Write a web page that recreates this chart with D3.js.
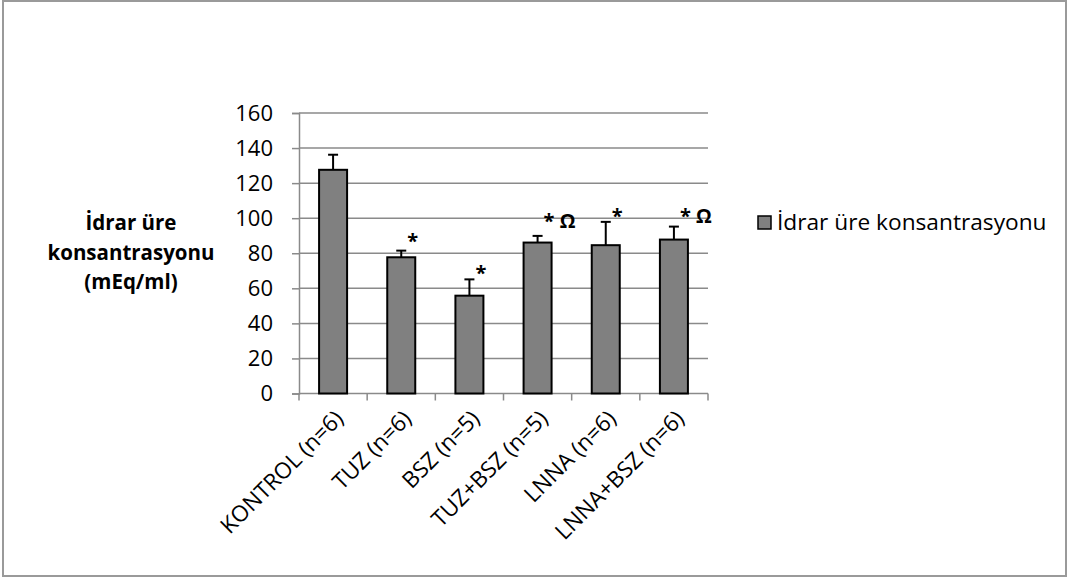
<!DOCTYPE html>
<html>
<head>
<meta charset="utf-8">
<script src="https://cdn.jsdelivr.net/npm/d3@7"></script>
<style>
  html, body { margin: 0; padding: 0; background: #fff; }
  svg { display: block; }
  text { font-family: "Open Sans", "Noto Sans", sans-serif; fill: #000; }
</style>
</head>
<body>
<svg id="chart" width="1068" height="578"></svg>
<script>
// Groups, mean urine urea concentration and upper error (SEM)
const groups = ["KONTROL (n=6)", "TUZ (n=6)", "BSZ (n=5)", "TUZ+BSZ (n=5)", "LNNA (n=6)", "LNNA+BSZ (n=6)"];
const means = [127.6, 77.7, 55.8, 86.1, 84.6, 87.8];
const errors = [8.6, 3.8, 9.3, 3.8, 13.3, 7.4];
// Significance marks and the level they sit at
const marks = ["", "*", "*", "* Ω", "*", "* Ω"];
const markLevel = [0, 89, 71, 100.5, 103.5, 103.5];
const yTicks = [0, 20, 40, 60, 80, 100, 120, 140, 160];
const seriesName = "İdrar üre konsantrasyonu";
const yTitle = ["İdrar üre", "konsantrasyonu", "(mEq/ml)"];

const svg = d3.select("#chart");
const W = 1068, H = 578;
const FS = "22px";

// outer frame
svg.append("rect")
  .attr("x", 3).attr("y", 1).attr("width", W - 5).attr("height", H - 3)
  .attr("fill", "#fff").attr("stroke", "#9a9a9a").attr("stroke-width", 2);

const plot = { left: 299, right: 708, top: 113, bottom: 393.5 };

const x = d3.scaleBand().domain(groups).range([plot.left, plot.right]).paddingInner(0).paddingOuter(0);
const y = d3.scaleLinear().domain([0, 160]).range([plot.bottom, plot.top]);

// gridlines
svg.append("g").selectAll("line").data(yTicks.filter(d => d > 0)).join("line")
  .attr("x1", plot.left).attr("x2", plot.right)
  .attr("y1", d => y(d)).attr("y2", d => y(d))
  .attr("stroke", "#8a8a8a").attr("stroke-width", 1.5);

// y axis
const yAxis = svg.append("g").attr("transform", `translate(${plot.left},0)`)
  .call(d3.axisLeft(y).tickValues(yTicks).tickSize(7).tickPadding(19).tickFormat(d3.format("d")));
yAxis.attr("font-size", null).attr("font-family", null);
yAxis.select(".domain").attr("stroke", "#8a8a8a").attr("stroke-width", 1.5);
yAxis.selectAll(".tick line").attr("stroke", "#8a8a8a").attr("stroke-width", 1.5);
yAxis.selectAll(".tick text").style("font-size", FS).attr("fill", "#000");

// x axis with ticks on category boundaries
const xAxisG = svg.append("g").attr("transform", `translate(0,${plot.bottom})`);
xAxisG.append("line").attr("x1", plot.left).attr("x2", plot.right)
  .attr("stroke", "#8a8a8a").attr("stroke-width", 1.5);
const bounds = groups.map(g => x(g)).concat([plot.right]);
xAxisG.selectAll("line.tk").data(bounds).join("line").attr("class", "tk")
  .attr("x1", d => d).attr("x2", d => d).attr("y1", 0).attr("y2", 7)
  .attr("stroke", "#8a8a8a").attr("stroke-width", 1.5);
xAxisG.selectAll("text").data(groups).join("text")
  .attr("transform", d => `translate(${x(d) + x.bandwidth() / 2 + 6},${21}) rotate(-45)`)
  .attr("text-anchor", "end")
  .attr("dy", "0.35em")
  .style("font-size", "22.5px")
  .text(d => d);

// bars
const barW = 28;
const cx = g => x(g) + x.bandwidth() / 2;
svg.append("g").selectAll("rect").data(groups).join("rect")
  .attr("x", g => cx(g) - barW / 2)
  .attr("y", (g, i) => y(means[i]))
  .attr("width", barW)
  .attr("height", (g, i) => y(0) - y(means[i]))
  .attr("fill", "#808080").attr("stroke", "#000").attr("stroke-width", 2);

// error bars (upper only)
const eb = svg.append("g").attr("stroke", "#000").attr("stroke-width", 2);
groups.forEach((g, i) => {
  const top = y(means[i] + errors[i]);
  eb.append("line").attr("x1", cx(g)).attr("x2", cx(g)).attr("y1", y(means[i])).attr("y2", top);
  eb.append("line").attr("x1", cx(g) - 5).attr("x2", cx(g) + 5).attr("y1", top).attr("y2", top);
});

// significance marks
svg.append("g").selectAll("text").data(groups).join("text")
  .attr("x", g => cx(g) + 6)
  .attr("y", (g, i) => y(markLevel[i]) + 11)
  .style("font-size", "20px").style("font-weight", "bold")
  .text((g, i) => marks[i]);

// y axis title
const tt = svg.append("text").attr("text-anchor", "middle").style("font-size", "20.5px").style("font-weight", "bold");
yTitle.forEach((t, i) => {
  tt.append("tspan").attr("x", 131).attr("y", 230 + i * 29.5).text(t);
});

// legend
svg.append("rect").attr("x", 758).attr("y", 216).attr("width", 13).attr("height", 13)
  .attr("fill", "#808080").attr("stroke", "#000").attr("stroke-width", 1.5);
svg.append("text").attr("x", 777).attr("y", 230).style("font-size", "22.7px").text(seriesName);
</script>
</body>
</html>
